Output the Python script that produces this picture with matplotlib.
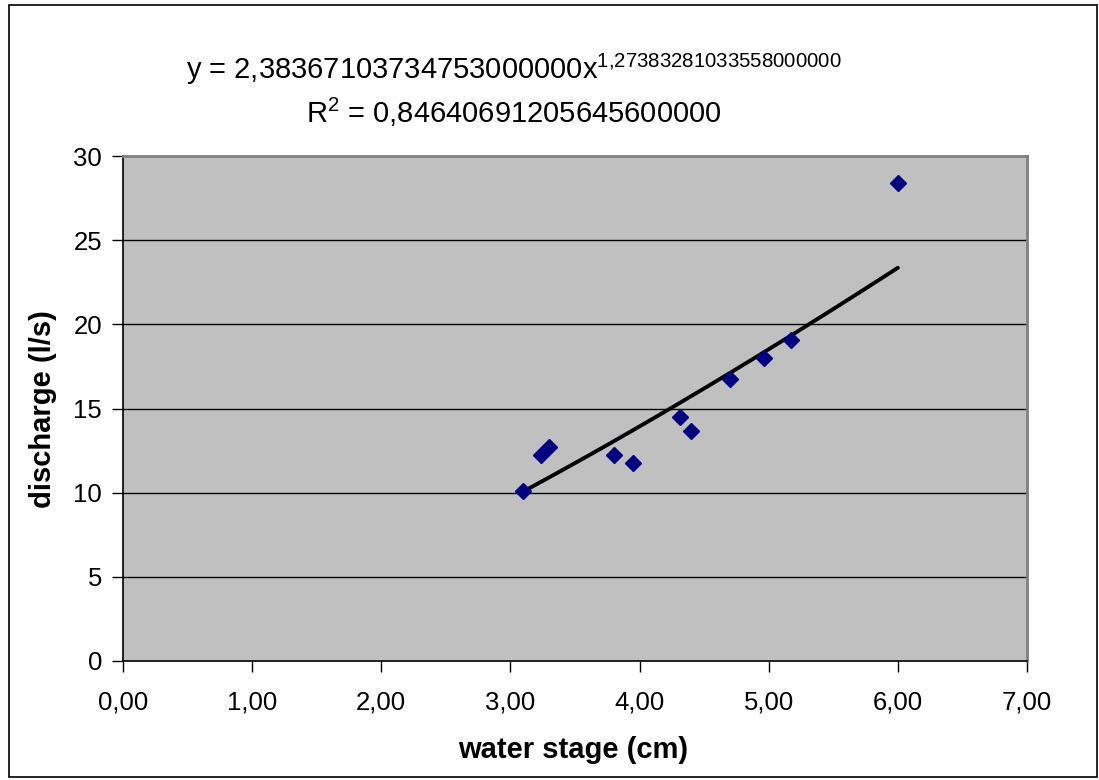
import matplotlib.pyplot as plt
import numpy as np
from matplotlib.patches import Rectangle

# |====| data section
# water stage (cm) and discharge (l/s)
stage = [3.10, 3.24, 3.30, 3.80, 3.95, 4.31, 4.40, 4.70, 4.96, 5.17, 6.00]
discharge = [10.10, 12.24, 12.70, 12.24, 11.76, 14.50, 13.65, 16.76, 18.02, 19.07, 28.38]

# power trendline from the chart label
coef_a = 2.38367103734753
coef_b = 1.27383281033558
eq_text = "y = 2,38367103734753000000x"
eq_exp = "1,27383281033558000000"
r2_text = "0,84640691205645600000"

xticks = [0, 1, 2, 3, 4, 5, 6, 7]
xlabels = ["0,00", "1,00", "2,00", "3,00", "4,00", "5,00", "6,00", "7,00"]
yticks = [0, 5, 10, 15, 20, 25, 30]

# |====| plot section
plt.rcParams['font.family'] = ['Liberation Sans', 'DejaVu Sans']
plt.rcParams['mathtext.fontset'] = 'custom'
plt.rcParams['mathtext.rm'] = 'Liberation Sans'

W, H = 1099, 780
fig = plt.figure(figsize=(W / 100, H / 100), dpi=100)
ax = fig.add_axes([123 / W, 1 - 661 / H, (1027 - 123) / W, (661 - 156) / H])
ax.set_facecolor('#C0C0C0')

# horizontal grid
for v in yticks[1:-1]:
    ax.axhline(v, color='black', lw=1.0, zorder=1)

fit_x = np.linspace(min(stage), max(stage), 100)
ax.plot(fit_x, coef_a * fit_x ** coef_b, color='black', lw=2.8, zorder=2,
        solid_capstyle='round')
ax.plot(stage, discharge, linestyle='none', marker='D', markersize=8.5,
        color='#000080', markeredgecolor='#000080', zorder=3)

ax.set_xlim(0, 7)
ax.set_ylim(0, 30)
ax.set_xticks(xticks)
ax.set_xticklabels(xlabels)
ax.set_yticks(yticks)
ax.tick_params(axis='both', direction='out', length=8, width=1, labelsize=18.5,
               colors='black')
ax.tick_params(axis='x', pad=13)
ax.tick_params(axis='y', pad=7)

for s in ['left', 'bottom']:
    ax.spines[s].set_color('black')
    ax.spines[s].set_linewidth(1.2)
for s in ['top', 'right']:
    ax.spines[s].set_color('#808080')
    ax.spines[s].set_linewidth(2)

fig.text(573 / W, 1 - 750 / H, 'water stage (cm)', ha='center', va='center',
         fontsize=21, fontweight='bold')
fig.text(43 / W, 1 - 409 / H, 'discharge (l/s)', ha='center', va='center',
         fontsize=21, fontweight='bold', rotation=90)

fig.text(514 / W, 1 - 69 / H, eq_text + r'$^{\mathrm{' + eq_exp.replace(',', '{,}') + '}}$',
         ha='center', va='center', fontsize=21)
fig.text(514 / W, 1 - 112 / H, r'R$^{\mathrm{2}}$ = ' + r2_text,
         ha='center', va='center', fontsize=21)

# outer chart border
fig.patches.append(Rectangle((9 / W, 1 - 777 / H), (1097 - 9) / W, (777 - 5) / H,
                             transform=fig.transFigure, fill=False,
                             edgecolor='black', lw=1.2))

fig.savefig('out.png', dpi=100)
